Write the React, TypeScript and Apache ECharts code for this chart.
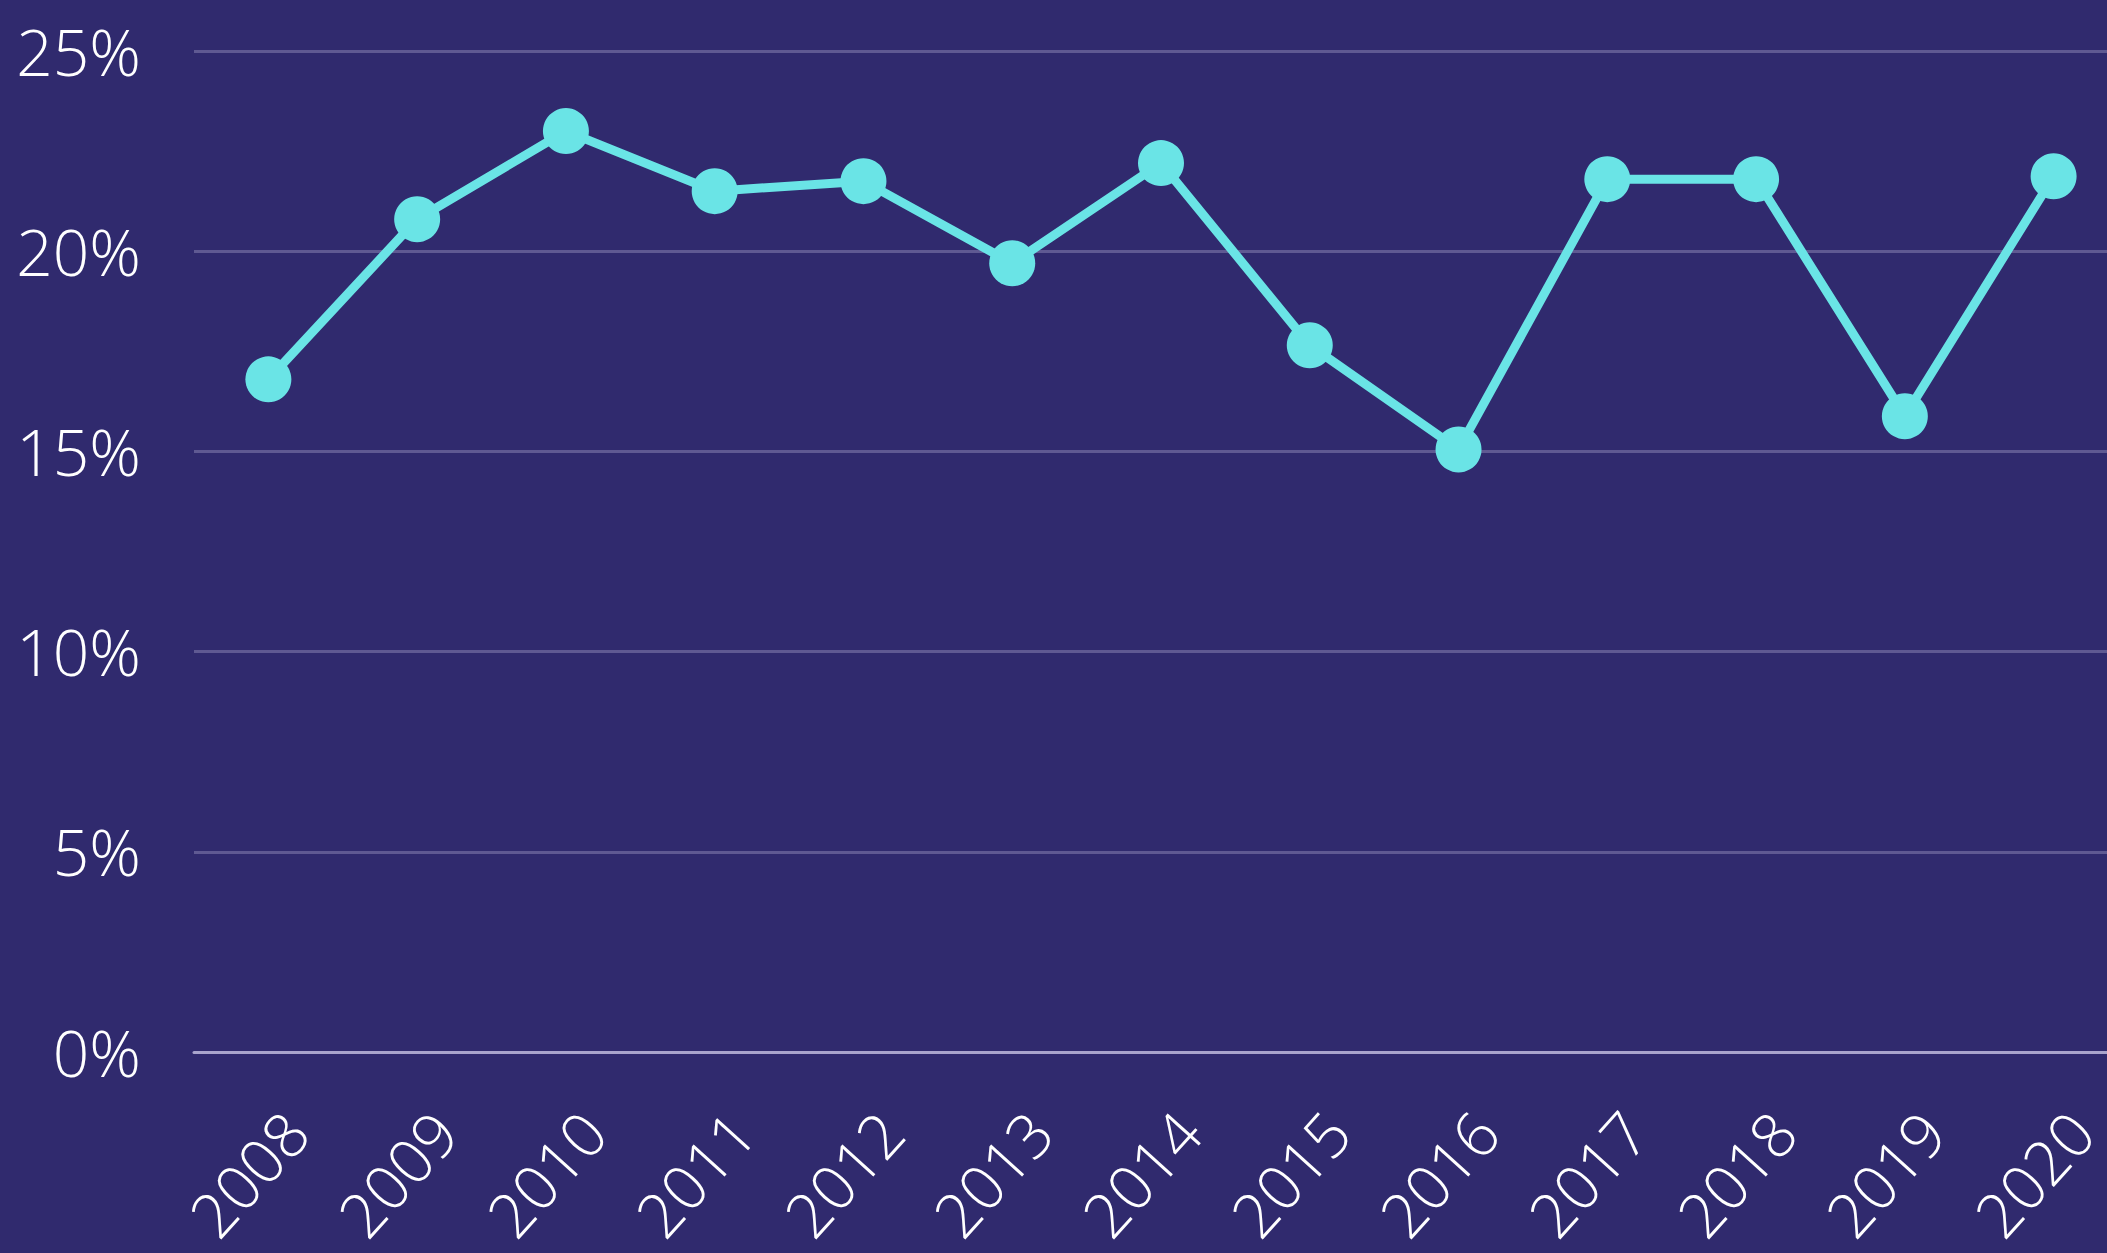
import React, { useEffect, useRef } from "react";
import * as echarts from "echarts";

const years = ["2008", "2009", "2010", "2011", "2012", "2013", "2014", "2015", "2016", "2017", "2018", "2019", "2020"];
const values = [16.8, 20.8, 23.0, 21.5, 21.75, 19.7, 22.2, 17.65, 15.05, 21.8, 21.8, 15.88, 21.87];
const yTicks = [0, 5, 10, 15, 20, 25];

export default function App() {
  const ref = useRef<HTMLDivElement>(null);
  useEffect(() => {
    document.body.style.margin = "0";
    const chart = echarts.init(ref.current!, null, { renderer: "svg" });
    chart.setOption({
      animation: false,
      backgroundColor: "#302a6e",
      grid: { left: 194, right: 0, top: 51, bottom: 1253 - 1054, containLabel: false },
      xAxis: {
        type: "category",
        data: years,
        boundaryGap: true,
        axisLine: { show: true, lineStyle: { color: "#a9a4cc", width: 3 } },
        axisTick: { show: false },
        axisLabel: {
          rotate: 48,
          color: "#ffffff",
          fontFamily: "Open Sans",
          fontWeight: 300,
          fontSize: 62,
          lineHeight: 74,
          verticalAlign: "top",
          margin: 44,
          interval: 0,
        },
      },
      yAxis: {
        type: "value",
        min: yTicks[0],
        max: yTicks[yTicks.length - 1],
        interval: 5,
        axisLine: { show: false },
        axisTick: { show: false },
        splitLine: { lineStyle: { color: "#5f5992", width: 3 } },
        axisLabel: {
          color: "#ffffff",
          fontFamily: "Open Sans",
          fontWeight: 300,
          fontSize: 64,
          margin: 53,
          formatter: (v: number) => v + "%",
        },
      },
      series: [
        {
          type: "line",
          data: values,
          symbol: "circle",
          symbolSize: 46,
          lineStyle: { color: "#6ae4e6", width: 9 },
          itemStyle: { color: "#6ae4e6" },
        },
      ],
    });
    return () => chart.dispose();
  }, []);
  return (
    <div style={{ width: 2107, height: 1253, overflow: "hidden", position: "relative" }}>
      <div ref={ref} style={{ width: 2128, height: 1253 }} />
    </div>
  );
}
